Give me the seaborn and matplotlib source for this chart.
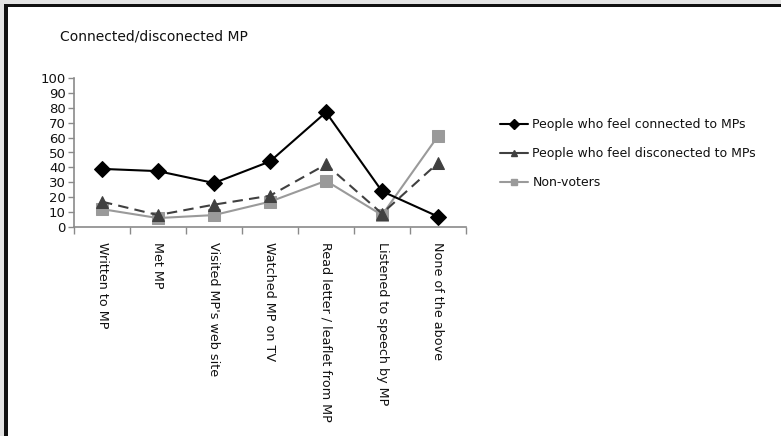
import matplotlib
matplotlib.use("Agg")
import matplotlib.pyplot as plt
from matplotlib.lines import Line2D
from matplotlib.patches import Rectangle
import seaborn as sns
import pandas as pd
import numpy as np

categories = [
    "Written to MP",
    "Met MP",
    "Visited MP's web site",
    "Watched MP on TV",
    "Read letter / leaflet from MP",
    "Listened to speech by MP",
    "None of the above",
]
connected = [39, 37.5, 29.5, 44, 77, 24, 7]
disconnected = [17, 8, 15, 21, 42, 9, 43]
non_voters = [12, 6, 8, 17, 31, 8, 61]
series_names = [
    "People who feel connected to MPs",
    "People who feel disconected to MPs",
    "Non-voters",
]
y_ticks = list(range(0, 101, 10))

sns.set_theme(style="white")
plt.rcParams["font.family"] = ["DejaVu Sans"]

fig = plt.figure(figsize=(7.81, 4.36), dpi=100)
fig.patch.set_facecolor("white")

# outer frame: light grey margin with a black rule on the top and left edges
fig.patches.append(Rectangle((0, 1 - 4 / 436), 1, 4 / 436, transform=fig.transFigure,
                             facecolor="#e4e4e4", edgecolor="none", zorder=0))
fig.patches.append(Rectangle((0, 0), 4 / 781, 1, transform=fig.transFigure,
                             facecolor="#e4e4e4", edgecolor="none", zorder=0))
fig.patches.append(Rectangle((4 / 781, 1 - 7.5 / 436), 1, 3.5 / 436, transform=fig.transFigure,
                             facecolor="#111111", edgecolor="none", zorder=1))
fig.patches.append(Rectangle((4 / 781, 0), 3.5 / 781, 1 - 4 / 436, transform=fig.transFigure,
                             facecolor="#111111", edgecolor="none", zorder=1))

ax = fig.add_axes([74 / 781, 1 - 227 / 436, (466 - 74) / 781, 149 / 436])

x = np.arange(len(categories))
df = pd.DataFrame({
    "pos": np.tile(x, 3),
    "value": connected + disconnected + non_voters,
    "series": np.repeat(series_names, len(categories)),
})

styles = {
    series_names[0]: dict(color="#000000", ls="-", marker="D", ms=8.5, mfc="#000000", mec="#000000"),
    series_names[1]: dict(color="#404040", ls=(0, (5, 3)), marker="^", ms=8.5, mfc="#404040", mec="#404040"),
    series_names[2]: dict(color="#9a9a9a", ls="-", marker="s", ms=8.5, mfc="#9a9a9a", mec="#9a9a9a"),
}

for name in [series_names[2], series_names[1], series_names[0]]:
    st = styles[name]
    sub = df[df["series"] == name]
    sns.lineplot(data=sub, x="pos", y="value", ax=ax, color=st["color"],
                 linestyle=st["ls"], linewidth=1.5, marker=st["marker"],
                 markersize=st["ms"], markerfacecolor=st["mfc"],
                 markeredgecolor=st["mec"], legend=False)

ax.set_xlim(-0.5, len(categories) - 0.5)
ax.set_ylim(0, 100)
ax.set_xlabel("")
ax.set_ylabel("")

for side in ["top", "right"]:
    ax.spines[side].set_visible(False)
for side in ["left", "bottom"]:
    ax.spines[side].set_color("#8a8a8a")
    ax.spines[side].set_linewidth(1.2)

ax.set_yticks(y_ticks)
ax.set_yticklabels([str(v) for v in y_ticks], fontsize=9.5, color="#111111",
                   family=["Liberation Sans Narrow", "DejaVu Sans"])
ax.tick_params(axis="y", direction="out", length=4, width=1, color="#8a8a8a", pad=2, left=True)

ax.set_xticks(x)
ax.set_xticklabels(categories, rotation=270, fontsize=9.2, color="#111111",
                   va="top", ha="center")
ax.tick_params(axis="x", which="major", length=0, pad=11)
ax.set_xticks(np.arange(-0.5, len(categories)), minor=True)
ax.tick_params(axis="x", which="minor", direction="out", length=5, width=1,
               color="#8a8a8a", bottom=True)

fig.text(60 / 781, 1 - 37 / 436, "Connected/disconected MP", fontsize=10,
         family=["Liberation Sans Narrow", "DejaVu Sans"], color="#111111",
         ha="left", va="center")

handles = []
for name in series_names:
    st = styles[name]
    handles.append(Line2D([0], [0], color=st["color"], linestyle="-", linewidth=1.5,
                          marker=st["marker"], markersize=5,
                          markerfacecolor=st["mfc"], markeredgecolor=st["mec"]))
leg = fig.legend(handles, series_names, loc="upper left",
                 bbox_to_anchor=(495 / 781, 1 - 113 / 436), frameon=False,
                 fontsize=9, handlelength=2.2, handletextpad=0.4,
                 labelspacing=1.3, borderaxespad=0)
for t in leg.get_texts():
    t.set_color("#111111")

fig.savefig("out.png", dpi=100, facecolor="white")
